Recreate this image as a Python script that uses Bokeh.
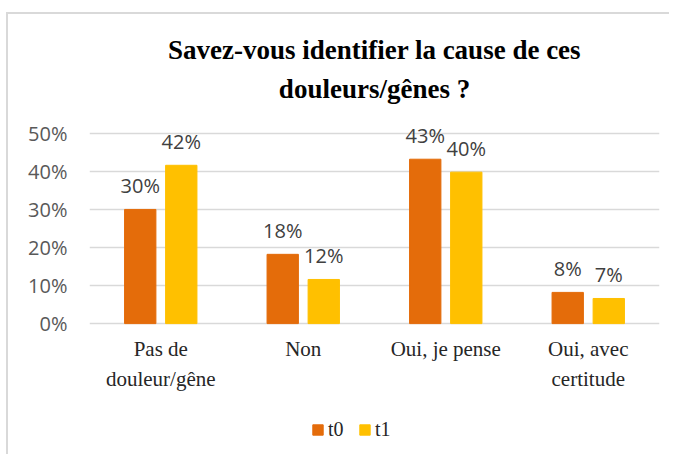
from bokeh.plotting import figure
from bokeh.models import (ColumnDataSource, Legend, LegendItem, Title, NumeralTickFormatter,
                          FixedTicker)
from bokeh.transform import dodge
from bokeh.core.properties import value
from bokeh.embed import file_html
from bokeh.resources import INLINE

# ---- data ----
categories = ["Pas de\ndouleur/gêne", "Non", "Oui, je pense", "Oui, avec\ncertitude"]
t0 = [0.30, 0.182, 0.432, 0.082]
t1 = [0.416, 0.116, 0.398, 0.066]
series_names = ["t0", "t1"]
series_colors = ["#E46C0A", "#FFC000"]
y_ticks = [0.0, 0.1, 0.2, 0.3, 0.4, 0.5]
title_lines = ["Savez-vous identifier la cause de ces", "douleurs/gênes ?"]

src = ColumnDataSource(dict(
    cat=categories,
    base=[0.0] * len(categories),
    t0=t0,
    t1=t1,
    t0_lab=[f"{round(v * 100)}%" for v in t0],
    t1_lab=[f"{round(v * 100)}%" for v in t1],
))

# frame extended below zero so category labels and legend live inside it
p = figure(x_range=categories, y_range=(-0.344, 0.56), frame_width=570, frame_height=344,
           output_backend="svg", toolbar_location=None,
           min_border_left=81, min_border_right=10, min_border_top=96, min_border_bottom=0)
p.outline_line_color = None
p.background_fill_color = "white"
p.border_fill_color = "white"
# chart-area border (top and left edges)
p.styles = {"border-top": "2px solid #d9d9d9", "border-left": "2px solid #d9d9d9",
            "margin-top": "12px", "margin-left": "6px"}

offs = 0.144
bw = 0.22
renderers = []
for i, (name, col) in enumerate(zip(series_names, series_colors)):
    off = -offs if i == 0 else offs
    r = p.vbar(x=dodge("cat", off, range=p.x_range), top=name, bottom="base", width=bw, source=src,
               fill_color=col, line_color=col)
    renderers.append(r)
    p.text(x=dodge("cat", off, range=p.x_range), y=name, text=name + "_lab", source=src,
           text_align="center", text_baseline="bottom", y_offset=-10,
           text_font=value("Open Sans"), text_font_size="20px", text_color="#404040")

# category labels under the bars
p.text(x="cat", y="base", text="cat", source=src, text_align="center", text_baseline="top",
       y_offset=13, text_font=value("Liberation Serif"), text_font_size="21px",
       text_color="#262626", text_line_height=1.25)

# axes
p.yaxis.ticker = FixedTicker(ticks=y_ticks)
p.yaxis.formatter = NumeralTickFormatter(format="0%")
p.yaxis.axis_line_color = None
p.yaxis.major_tick_line_color = None
p.yaxis.minor_tick_line_color = None
p.yaxis.major_label_text_font = "Open Sans"
p.yaxis.major_label_text_font_size = "20px"
p.yaxis.major_label_text_color = "#595959"
p.yaxis.major_label_standoff = 16

p.xaxis.visible = False

p.xgrid.grid_line_color = None
p.ygrid.grid_line_color = "#d9d9d9"
p.ygrid.grid_line_width = 1.5

# title (two lines)
for line, so in zip(reversed(title_lines), [13, 2]):
    p.add_layout(Title(text=line, align="center", text_font="Liberation Serif", standoff=so,
                       text_font_size="27px", text_font_style="bold", text_color="#000000"), "above")

legend = Legend(items=[LegendItem(label=n, renderers=[r]) for n, r in zip(series_names, renderers)],
                orientation="horizontal", location=(222, 13), margin=0, padding=0,
                label_text_font="Liberation Serif", label_text_font_size="20px",
                label_text_color="#262626", glyph_width=13, glyph_height=13,
                border_line_color=None, background_fill_alpha=0, spacing=10, label_standoff=4)
p.add_layout(legend)

open("out.html", "w").write(file_html(p, INLINE))
